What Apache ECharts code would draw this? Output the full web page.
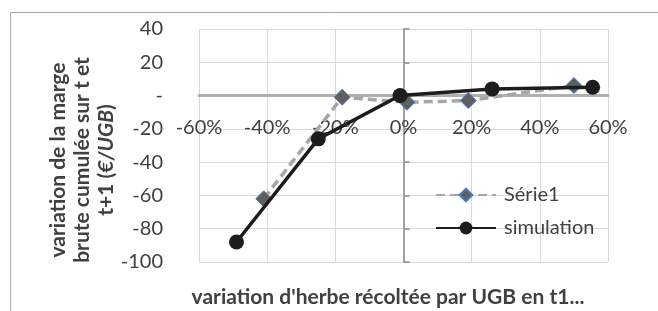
<!DOCTYPE html>
<html>
<head>
<meta charset="utf-8">
<script src="https://cdn.jsdelivr.net/npm/echarts@6/dist/echarts.min.js"></script>
<style>
  html, body { margin: 0; padding: 0; background: #fff; }
  #chart { width: 658px; height: 311px; }
</style>
</head>
<body>
<div id="chart"></div>
<script>
// données
const serie1X = [-0.41, -0.18, 0.01, 0.19, 0.50]
const serie1Y = [-62, -1, -4, -3, 6]
const simX = [-0.49, -0.25, -0.01, 0.26, 0.555]
const simY = [-88, -26, 0, 4, 5]
const seriesNames = ['Série1', 'simulation']
const xTicks = [-0.6, -0.4, -0.2, 0, 0.2, 0.4, 0.6]
const yTicks = [-100, -80, -60, -40, -20, 0, 20, 40]

const FONT = 'Lato, "Open Sans", sans-serif'
const textColor = '#404040'

const pairs = (xs, ys) => xs.map((x, i) => [x, ys[i]])

const option = {
  animation: false,
  textStyle: { fontFamily: FONT },
  grid: {
    left: 199,
    right: 50,
    top: 29,
    bottom: 49
  },
  legend: {
    orient: 'vertical',
    left: 430,
    top: 180,
    itemWidth: 60,
    itemHeight: 16,
    itemGap: 13,
    data: seriesNames,
    textStyle: {
      fontFamily: FONT,
      fontSize: 20,
      color: textColor,
      padding: [0, 0, 0, 3]
    }
  },
  xAxis: {
    type: 'value',
    min: xTicks[0],
    max: xTicks[xTicks.length - 1],
    interval: 0.2,
    axisLine: {
      onZero: true,
      lineStyle: { color: '#b0b0b0', width: 3 }
    },
    axisTick: { show: false },
    axisLabel: {
      // les étiquettes restent en bas de la grille : on les remonte sous la ligne du zéro
      margin: -144,
      fontSize: 20,
      color: textColor,
      fontFamily: FONT,
      formatter: (v) => Math.round(v * 100) + '%'
    },
    splitLine: { lineStyle: { color: '#d9d9d9', width: 1 } }
  },
  yAxis: [
    {
      // labels à gauche
      type: 'value',
      min: yTicks[0],
      max: yTicks[yTicks.length - 1],
      interval: 20,
      position: 'left',
      axisLine: { show: false, onZero: false },
      axisTick: { show: false },
      axisLabel: {
        margin: 36,
        fontSize: 20,
        color: textColor,
        fontFamily: FONT,
        formatter: (v) => v === 0 ? '-' : v
      },
      splitLine: { lineStyle: { color: '#d9d9d9', width: 1 } }
    },
    {
      // axe vertical sur x = 0
      type: 'value',
      min: yTicks[0],
      max: yTicks[yTicks.length - 1],
      interval: 20,
      position: 'left',
      axisLine: {
        show: true,
        onZero: true,
        lineStyle: { color: '#a0a0a0', width: 2 }
      },
      axisTick: {
        show: true,
        inside: true,
        length: 6,
        lineStyle: { color: '#a0a0a0', width: 2 }
      },
      axisLabel: { show: false },
      splitLine: { show: false }
    }
  ],
  series: [
    {
      name: seriesNames[0],
      type: 'line',
      data: pairs(serie1X, serie1Y),
      symbol: 'diamond',
      symbolSize: 16,
      z: 2,
      lineStyle: { color: '#a6a6a6', width: 3.5, type: [9, 5] },
      itemStyle: { color: '#5f5f5f', borderColor: '#4a7ac8', borderWidth: 1 }
    },
    {
      name: seriesNames[1],
      type: 'line',
      data: pairs(simX, simY),
      symbol: 'circle',
      symbolSize: 15,
      z: 3,
      lineStyle: { color: '#1e1c1c', width: 3.5 },
      itemStyle: { color: '#1e1c1c' }
    }
  ],
  graphic: [
    {
      type: 'rect',
      shape: { x: 10.5, y: 12.5, width: 700, height: 400 },
      style: { fill: 'none', stroke: '#a6a6a6', lineWidth: 1 },
      silent: true
    },
    {
      type: 'text',
      x: 82,
      y: 160,
      rotation: Math.PI / 2,
      style: {
        text: '{b|variation de la marge}\n{b|brute cumulée sur t et}\n{b|t+1 (}{i|€/UGB}{b|)}',
        align: 'center',
        verticalAlign: 'middle',
        rich: {
          b: { fontFamily: FONT, fontWeight: 'bold', fontSize: 21, fill: textColor, lineHeight: 24 },
          i: { fontFamily: FONT, fontWeight: 'bold', fontStyle: 'italic', fontSize: 21, fill: textColor, lineHeight: 24 }
        }
      }
    },
    {
      type: 'text',
      x: 388,
      y: 297,
      style: {
        text: "variation d'herbe récoltée par UGB en t1...",
        align: 'center',
        verticalAlign: 'middle',
        fontFamily: FONT,
        fontWeight: 'bold',
        fontSize: 21,
        fill: textColor
      }
    }
  ]
}

const echart = echarts.init(document.getElementById('chart'))
echart.setOption(option)
</script>
</body>
</html>
